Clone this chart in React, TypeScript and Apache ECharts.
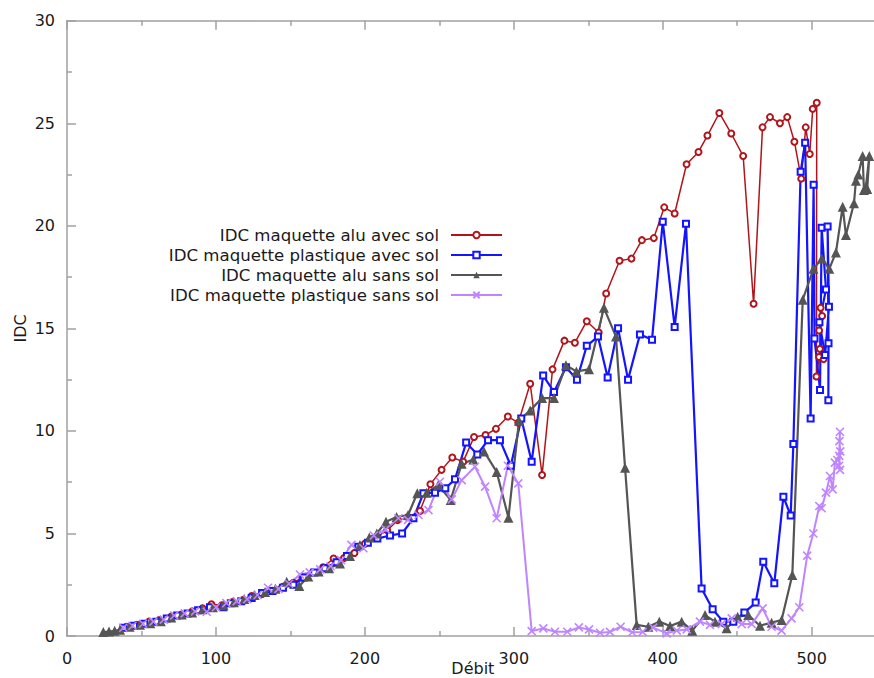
import React, { useEffect, useRef } from 'react';
import * as echarts from 'echarts';

const seriesNames = [
  'IDC maquette alu avec sol',
  'IDC maquette plastique avec sol',
  'IDC maquette alu sans sol',
  'IDC maquette plastique sans sol',
];

const aluAvecSol: number[][] = [
  [40, 0.45], [47, 0.55], [55, 0.7], [62, 0.78], [70, 0.95], [77, 1.05], [84, 1.2], [91, 1.35], [97, 1.55], [104, 1.5],
  [111, 1.65], [118, 1.75], [124, 1.95], [131, 2.05], [138, 2.2], [145, 2.4], [152, 2.6], [158, 2.85], [165, 3.1], [172, 3.35],
  [179, 3.78], [186, 3.8], [193, 4.05], [200, 4.5], [207, 4.8], [215, 5.15], [222, 5.65], [229, 5.8], [237, 6.1], [244, 7.4],
  [251.5, 8.1], [258.7, 8.7], [266, 8.5], [273.3, 9.7], [281, 9.8], [288, 10.1], [296, 10.7], [303, 10.4], [311, 12.3], [319, 7.85],
  [326, 13.0], [334, 14.4], [341, 14.3], [349, 15.35], [357, 14.8], [362, 16.7], [371, 18.3], [379, 18.4], [386, 19.3], [394, 19.4],
  [401, 20.9], [408, 20.6], [416, 23.0], [424, 23.6], [430, 24.4], [438, 25.5], [446, 24.5], [454, 23.4], [461, 16.2], [467, 24.8],
  [472, 25.3], [478.7, 25.0], [483.6, 25.3], [488.4, 24.1], [493, 22.3], [496, 24.8], [498.7, 23.5], [500.7, 25.7], [503.4, 26.0],
  [503.2, 12.65], [505, 13.6], [505.5, 14.0], [506, 16.0], [507, 15.6], [505, 14.9], [508, 13.5],
];

const plastiqueAvecSol: number[][] = [
  [38, 0.4], [45, 0.5], [52, 0.6], [60, 0.7], [67, 0.85], [74, 1.0], [81, 1.1], [88, 1.25], [96, 1.4], [105, 1.4],
  [110, 1.6], [117, 1.7], [124, 1.85], [131, 2.1], [138, 2.2], [145, 2.35], [152, 2.5], [159, 2.85], [166, 3.1], [173, 3.3],
  [181, 3.6], [188, 3.9], [195.6, 4.35], [202, 4.55], [208.4, 4.75], [216.9, 4.9], [225, 5.0], [232.6, 5.74], [239.3, 6.96], [247.1, 6.99],
  [254, 7.2], [260.5, 7.64], [268, 9.43], [275.5, 8.85], [282.7, 9.55], [290.7, 9.55], [298, 8.3], [305, 10.6], [312, 8.5], [319.7, 12.7],
  [327, 11.9], [335, 13.1], [342.4, 12.5], [349, 14.15], [356.5, 14.6], [363, 12.6], [370, 15.0], [376.7, 12.5], [384.7, 14.7], [392.8, 14.45],
  [400, 20.2], [408, 15.07], [415.6, 20.1], [426.1, 2.32], [433.5, 1.3], [440.6, 0.7], [447.4, 0.7], [454.8, 1.14], [462.4, 1.63], [467.5, 3.62],
  [474.9, 2.57], [481, 6.79], [485.9, 5.87], [487.7, 9.36], [492.6, 22.64], [495.6, 24.05], [499.3, 10.6], [501.3, 22.0], [501.9, 14.5], [505.6, 12.0],
  [506.7, 19.9], [509.6, 16.9], [505.2, 15.3], [509, 13.7], [511.6, 16.05], [510.7, 19.96], [511.3, 14.27], [511.2, 11.5],
];

const aluSansSol: number[][] = [
  [24.4, 0.2], [28.2, 0.22], [32, 0.25], [35.6, 0.3], [42, 0.45], [49, 0.55], [56, 0.62], [63, 0.72], [70, 0.9], [77, 1.05],
  [84, 1.15], [91, 1.3], [98, 1.4], [105, 1.5], [112, 1.65], [119, 1.8], [126, 2.0], [133, 2.15], [140, 2.3], [147.5, 2.65],
  [156, 2.44], [162, 2.9], [169, 3.15], [176, 3.3], [183.3, 3.54], [190, 3.9], [196.7, 4.44], [203, 4.8], [208, 5.0], [214.2, 5.57],
  [221.3, 5.8], [229, 5.9], [235.2, 6.96], [241.5, 6.99], [249.3, 7.36], [257.6, 6.63], [265, 8.4], [272.8, 8.6], [280, 9.0], [288.5, 8.0],
  [296.4, 5.77], [303.5, 10.5], [311, 11.0], [319, 11.6], [327, 11.6], [335, 13.2], [342, 12.9], [350.5, 13.0], [360.5, 16.0], [368.6, 14.6],
  [374.7, 8.2], [382.5, 0.54], [390.3, 0.45], [397.7, 0.7], [404.9, 0.49], [412.7, 0.7], [419.8, 0.26], [428.4, 1.02], [435.1, 0.7], [442.9, 0.38],
  [450.3, 0.94], [457.4, 1.02], [465.3, 0.5], [473.1, 0.65], [479.8, 0.78], [487, 2.97], [494, 16.4], [501.2, 17.9], [506.8, 18.4], [511.8, 17.9],
  [516.3, 18.7], [520.8, 20.93], [523, 19.55], [528.4, 21.1], [529.7, 22.2], [531.3, 22.5], [534.2, 23.4], [535.1, 21.75], [536.4, 21.9], [538.7, 23.4],
  [537.3, 21.8],
];

const plastiqueSansSol: number[][] = [
  [37.8, 0.4], [44, 0.5], [51, 0.6], [58, 0.7], [65, 0.8], [72, 1.0], [79, 1.1], [86, 1.2], [93.8, 1.18], [100, 1.4],
  [107, 1.6], [114, 1.7], [121, 1.8], [128, 2.0], [135, 2.35], [142, 2.3], [149, 2.55], [156.4, 3.0], [163, 3.1], [170, 3.25],
  [177, 3.4], [184, 3.7], [191, 4.44], [199, 4.28], [206, 4.9], [214, 5.2], [222.5, 5.74], [229, 5.66], [236, 5.9], [242.7, 6.14],
  [250.4, 7.52], [258.3, 6.66], [265, 7.6], [273.9, 8.25], [280.7, 7.28], [288.5, 5.74], [296, 8.3], [303, 7.44], [312, 0.24], [319.8, 0.37],
  [327.6, 0.21], [335.9, 0.21], [343.7, 0.42], [350.5, 0.32], [357.9, 0.16], [364.6, 0.2], [371.7, 0.45], [379.5, 0.18], [386.5, 0.2], [393.6, 0.41],
  [402.6, 0.13], [409.4, 0.26], [416.1, 0.32], [425, 0.7], [431.7, 0.54], [439.6, 0.58], [446.3, 0.86], [453, 0.58], [459.7, 0.58], [467.1, 1.35],
  [473.1, 0.45], [479.8, 0.26], [486.5, 0.86], [491.7, 1.4], [497, 3.92], [501.1, 5.0], [505.1, 6.34], [506.7, 6.23], [509.6, 6.99], [512.3, 7.8],
  [514.1, 7.15], [515.6, 8.45], [517.2, 8.58], [518.5, 8.78], [519, 9.96], [518.6, 9.5], [519.2, 9.0], [518.4, 8.3], [519, 8.1],
];

const FONT = 'DejaVu Sans';
const AXIS_COLOR = '#a0a0a0';
const TEXT_COLOR = '#1a1a1a';

export default function App() {
  const ref = useRef<HTMLDivElement>(null);
  useEffect(() => {
    const chart = echarts.init(ref.current!, null, { renderer: 'svg' });
    const axisCommon = {
      axisLine: { show: true, lineStyle: { color: AXIS_COLOR, width: 1.5 } },
      axisTick: { show: true, inside: true, length: 9, lineStyle: { color: AXIS_COLOR, width: 1.5 } },
      minorTick: { show: true, splitNumber: 2, length: 5, lineStyle: { color: AXIS_COLOR, width: 1.5 } },
      splitLine: { show: false },
      minorSplitLine: { show: false },
    };
    chart.setOption({
      animation: false,
      backgroundColor: '#ffffff',
      grid: {
        left: 67,
        top: 20.7,
        width: 811.7,
        height: 615.3,
        containLabel: false,
        outerBoundsMode: 'none',
      },
      legend: {
        orient: 'vertical',
        align: 'right',
        right: 371,
        top: 226,
        padding: 0,
        itemWidth: 51,
        itemHeight: 8,
        itemGap: 2,
        textStyle: {
          fontFamily: FONT,
          fontSize: 16.6,
          color: TEXT_COLOR,
          lineHeight: 18,
          padding: [0, 7, 0, 0],
        },
        data: seriesNames,
      },
      xAxis: [
        {
          type: 'value',
          min: 0,
          max: 545,
          interval: 100,
          name: 'Débit',
          nameLocation: 'middle',
          nameGap: 24,
          nameMoveOverlap: false,
          nameTextStyle: { fontFamily: FONT, fontSize: 16, color: TEXT_COLOR },
          axisLabel: { fontFamily: FONT, fontSize: 16, color: TEXT_COLOR, margin: 14, showMaxLabel: false },
          ...axisCommon,
        },
        {
          type: 'value',
          position: 'top',
          min: 0,
          max: 545,
          interval: 100,
          axisLabel: { show: false },
          ...axisCommon,
        },
      ],
      yAxis: [
        {
          type: 'value',
          min: 0,
          max: 30,
          interval: 5,
          name: 'IDC',
          nameLocation: 'middle',
          nameGap: 39,
          nameMoveOverlap: false,
          nameTextStyle: { fontFamily: FONT, fontSize: 16, color: TEXT_COLOR },
          axisLabel: { fontFamily: FONT, fontSize: 16, color: TEXT_COLOR, margin: 12 },
          ...axisCommon,
        },
      ],
      series: [
        {
          name: seriesNames[0],
          type: 'line',
          data: aluAvecSol,
          symbol: 'emptyCircle',
          symbolSize: 6,
          showAllSymbol: true,
          lineStyle: { color: '#b0151b', width: 1.5 },
          itemStyle: { color: '#b0151b', borderColor: '#b0151b', borderWidth: 1.5 },
        },
        {
          name: seriesNames[1],
          type: 'line',
          data: plastiqueAvecSol,
          symbol: 'emptyRect',
          symbolSize: 6,
          showAllSymbol: true,
          lineStyle: { color: '#1414ff', width: 2.2 },
          itemStyle: { color: '#1414ff', borderColor: '#1414ff', borderWidth: 2 },
        },
        {
          name: seriesNames[2],
          type: 'line',
          data: aluSansSol,
          symbol: 'triangle',
          symbolSize: 10,
          showAllSymbol: true,
          lineStyle: { color: '#555555', width: 2.2 },
          itemStyle: { color: '#555555' },
        },
        {
          name: seriesNames[3],
          type: 'line',
          data: plastiqueSansSol,
          symbol: 'path://M0,0L10,10M10,0L0,10',
          symbolSize: 8,
          showAllSymbol: true,
          lineStyle: { color: '#bf85ff', width: 2 },
          itemStyle: { color: '#bf85ff', borderColor: '#bf85ff', borderWidth: 1.6 },
        },
      ],
    });
    return () => chart.dispose();
  }, []);
  return (
    <div
      ref={ref}
      style={{ position: 'fixed', left: 0, top: 0, width: 874, height: 678, background: '#fff' }}
    />
  );
}
